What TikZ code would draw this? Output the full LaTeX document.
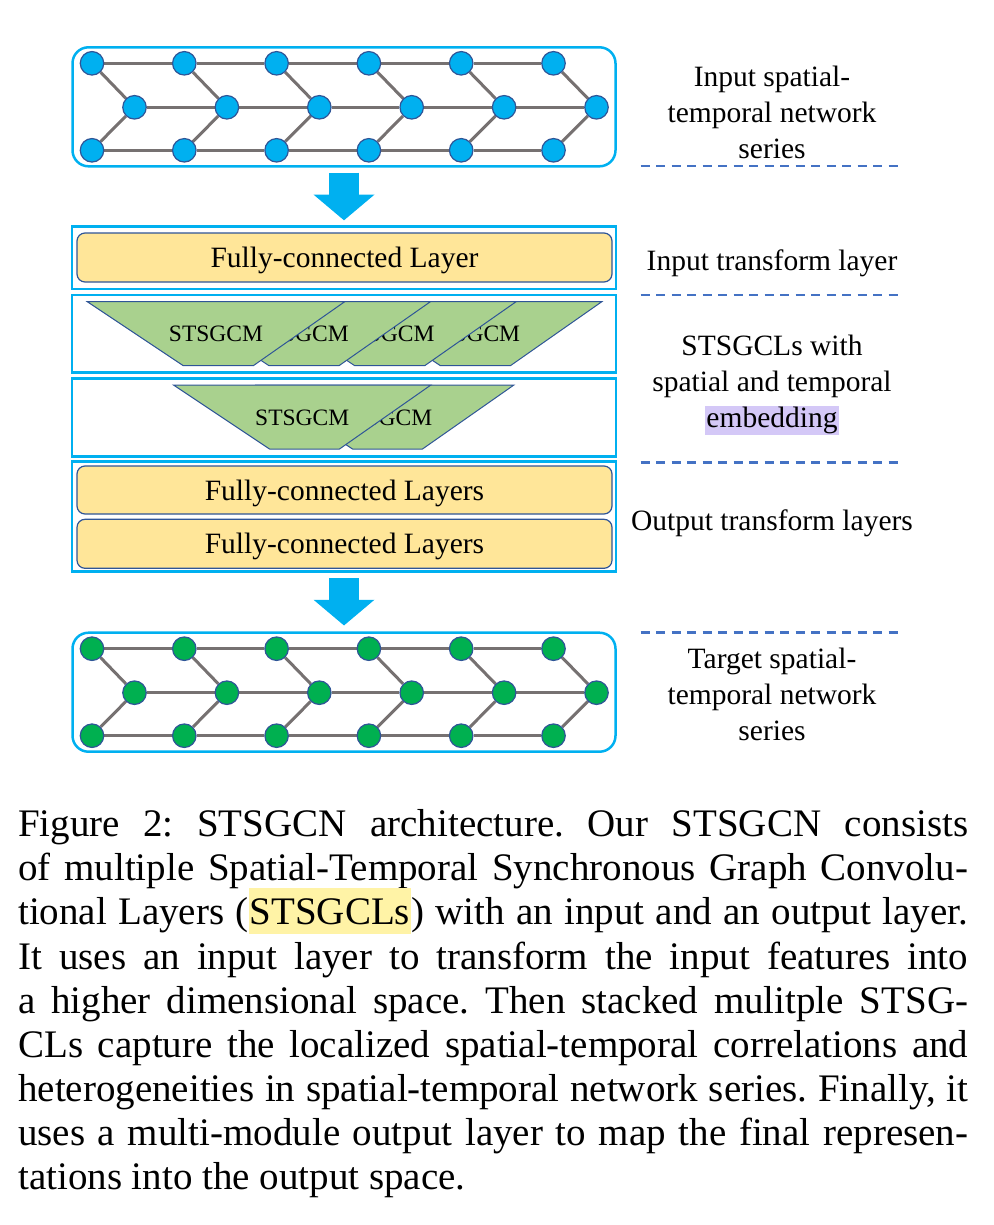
\documentclass[tikz,border=0pt]{standalone}
\usepackage{fontspec}
\setmainfont{Liberation Serif}
\usetikzlibrary{shapes,backgrounds}
\usetikzlibrary{arrows.meta}

\definecolor{netblue}{HTML}{00B0F0}
\definecolor{rimblue}{HTML}{2F5597}
\definecolor{linkgray}{HTML}{767171}
\definecolor{fcyellow}{HTML}{FFE699}
\definecolor{gcmgreen}{HTML}{A9D18E}
\definecolor{outgreen}{HTML}{00B050}
\definecolor{sepblue}{HTML}{4472C4}
\definecolor{hlyellow}{HTML}{FFF3A6}
\definecolor{hlpurple}{HTML}{D4C8F7}

% highlighted word: colour, depth, height, text
\newcommand{\marked}[4]{\smash{\setlength{\fboxsep}{1pt}\colorbox{#1}{\rule[-#2]{0pt}{#3}#4}}}

% network series: prefix, top y, node colour
\newcommand{\stnet}[3]{
  \node[netbox] (#1box) at (344,#2+59.5) {};
  \foreach \i in {1,...,6} {
    \node[vert,fill=#3] (#1t\i) at (92+92.3*\i-92.3,#2+16) {};
    \node[vert,fill=#3] (#1m\i) at (134.5+92.4*\i-92.4,#2+60) {};
    \node[vert,fill=#3] (#1b\i) at (92+92.3*\i-92.3,#2+103) {};
  }
  \begin{scope}[on background layer]
    \foreach \i [count=\j from 2] in {1,...,5} {
      \draw[link] (#1t\i) -- (#1t\j);
      \draw[link] (#1m\i) -- (#1m\j);
      \draw[link] (#1b\i) -- (#1b\j);
    }
    \foreach \i in {1,...,6} {
      \draw[link] (#1t\i) -- (#1m\i);
      \draw[link] (#1b\i) -- (#1m\i);
    }
  \end{scope}
}

% STSGCM module: name, left x, top y
\newcommand{\gcm}[3]{
  \filldraw[gcmshape] (#2,#3) -- ++(257.4,0) -- ++(-91.4,64) -- ++(-70,0) -- cycle;
  \node[gcmtext] (#1) at (#2+128.7,#3+40) {STSGCM};
}

\begin{document}
\begin{tikzpicture}[x=1pt, y=-1pt,
  vert/.style={circle, draw=rimblue, line width=1.2pt, minimum size=23.5pt, inner sep=0pt},
  link/.style={draw=linkgray, line width=3pt},
  netbox/.style={draw=netblue, line width=2.5pt, rounded corners=16pt, minimum width=543pt, minimum height=119pt, inner sep=0pt},
  layerbox/.style={draw=netblue, line width=2.8pt, minimum width=544pt, inner sep=0pt},
  fcbox/.style={draw=rimblue, fill=fcyellow, line width=1.2pt, rounded corners=8pt, minimum width=535pt, minimum height=49pt, inner sep=0pt, text height=25pt, text depth=5pt, font=\fontsize{29.5}{36}\selectfont},
  gcmshape/.style={draw=rimblue, fill=gcmgreen, line width=1pt},
  gcmtext/.style={anchor=base, inner sep=0pt, font=\fontsize{23.5}{28}\selectfont},
  flow/.style={draw=netblue, line width=30pt, -{Triangle[width=61pt, length=25.7pt, line width=0pt]}},
  sepline/.style={draw=sepblue, line width=2.5pt, dash pattern=on 9pt off 6.5pt},
  lbl/.style={align=center, anchor=base, inner sep=0pt, font=\fontsize{29.5}{36}\selectfont}]
\useasboundingbox (0,0) rectangle (993,1225);

% input series
\stnet{in}{47.3}{netblue}

% input transform layer
\node[layerbox, minimum height=62.3pt] (fcin) at (344,257.85) {};
\node[fcbox] (fcinner) at (344.5,257.5) {Fully-connected Layer};

% STSGCLs
\node[layerbox, minimum height=77.7pt] (gcl1) at (344,333.85) {};
\foreach \i in {4,3,2,1} \gcm{ga\i}{87.3+85.7*\i-85.7}{301.7};
\node[layerbox, minimum height=78.4pt] (gcl2) at (344,417.5) {};
\foreach \i in {2,1} \gcm{gb\i}{173.5+83*\i-83}{385};

% output transform layers
\node[layerbox, minimum height=110pt] (fcout) at (344,516.7) {};
\node[fcbox, minimum height=48pt] (fcoutA) at (344.5,490) {Fully-connected Layers};
\node[fcbox] (fcoutB) at (344.5,543.8) {Fully-connected Layers};

% target series
\stnet{tg}{632.7}{outgreen}

\draw[flow] ([yshift=-5pt]inbox.south) -- ([yshift=5pt]fcin.north);
\draw[flow] ([yshift=-5pt]fcout.south) -- ([yshift=6pt]tgbox.north);

% labels on the right (base = last line)
\foreach \y in {166,295,462.3,632.7} \draw[sepline] (640.7,\y) -- (903.3,\y);
\node[lbl] (lblin) at (772,158.7) {Input spatial-\\temporal network\\series};
\node[lbl] (lbltr) at (772,270) {Input transform layer};
\node[lbl] (lblst) at (772,427) {STSGCLs with\\spatial and temporal\\\marked{hlpurple}{7.3pt}{27pt}{embedding}};
\node[lbl] (lblout) at (772,530) {Output transform layers};
\node[lbl] (lbltg) at (772,740) {Target spatial-\\temporal network\\series};

% caption
\node[anchor=base west, inner sep=0pt, text width=950pt, align=justify, font=\fontsize{39}{44.1}\selectfont] (caption) at (18,836.7) {\frenchspacing\tolerance=10000\hyphenpenalty=10000
Figure 2: STSGCN architecture. Our STSGCN consists\linebreak
of multiple Spatial-Temporal Synchronous Graph Convolu-\linebreak
tional Layers (\marked{hlyellow}{8.3pt}{44pt}{STSGCLs}) with an input and an output layer.\linebreak
It uses an input layer to transform the input features into\linebreak
a higher dimensional space. Then stacked mulitple STSG-\linebreak
CLs capture the localized spatial-temporal correlations and\linebreak
heterogeneities in spatial-temporal network series. Finally, it\linebreak
uses a multi-module output layer to map the final represen-\linebreak
tations into the output space.};
\end{tikzpicture}
\end{document}
